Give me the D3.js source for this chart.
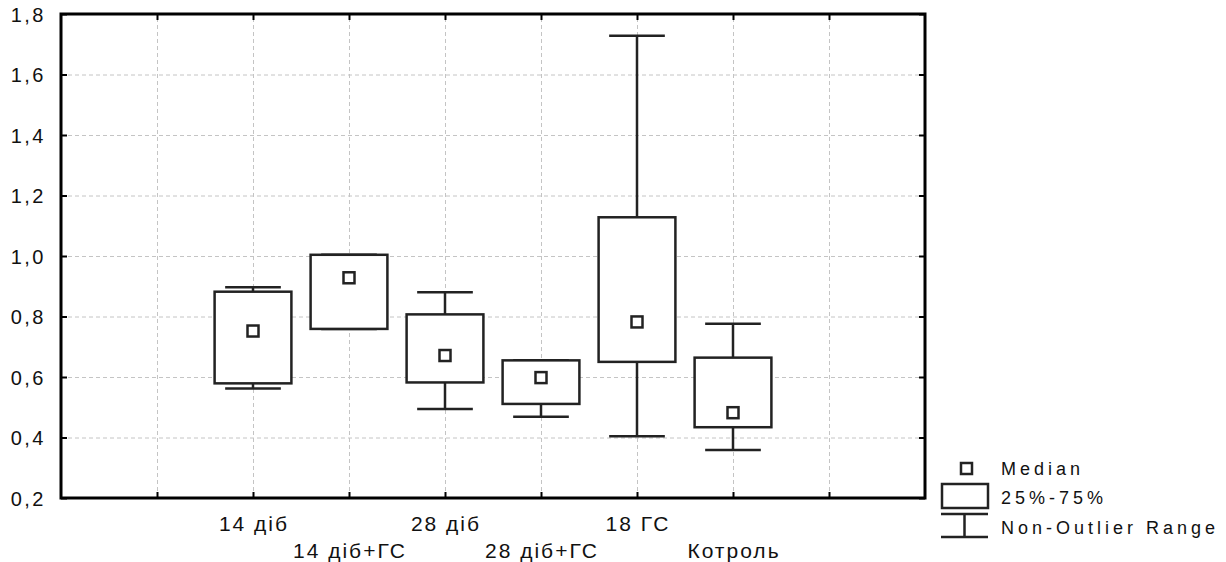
<!DOCTYPE html>
<html>
<head>
<meta charset="utf-8">
<style>
  * { margin:0; padding:0 }
  body { background:#fff; overflow:hidden; }
  text { font-family: "Liberation Sans", Arial, sans-serif; fill:#111; }
  .grid line { stroke:#c4c4c4; stroke-width:1; stroke-dasharray:4,3; }
  .grid path { display:none; }
</style>
<script src="https://cdn.jsdelivr.net/npm/d3@7"></script>
</head>
<body>
<script>
var categories = ["14 діб", "14 діб+ГС", "28 діб", "28 діб+ГС", "18 ГС", "Котроль"];
var positions  = [2, 3, 4, 5, 6, 7];
var whiskerLow = [0.562, 0.759, 0.494, 0.469, 0.404, 0.359];
var q1         = [0.579, 0.759, 0.582, 0.511, 0.650, 0.434];
var medians    = [0.752, 0.928, 0.671, 0.598, 0.782, 0.482];
var q3         = [0.882, 1.004, 0.807, 0.655, 1.128, 0.664];
var whiskerHigh= [0.897, 1.004, 0.880, 0.655, 1.728, 0.776];
var yTicks = [0.2, 0.4, 0.6, 0.8, 1.0, 1.2, 1.4, 1.6, 1.8];
var xGrid = [1, 2, 3, 4, 5, 6, 7, 8];
var legendLabels = ["Median", "25%-75%", "Non-Outlier Range"];

var width = 1226, height = 562;
var pLeft = 61, pRight = 925, pTop = 14, pBottom = 498;
var ink = "#222";

var svg = d3.select("body").append("svg")
    .attr("width", width)
    .attr("height", height);

var x = d3.scaleLinear().domain([0, 9]).range([pLeft, pRight]);
var y = d3.scaleLinear().domain([0.2, 1.8]).range([pBottom, pTop]);

// grid
svg.append("g").attr("class", "grid")
    .attr("transform", "translate(" + pLeft + ",0)")
    .call(d3.axisLeft(y).tickValues(yTicks.slice(1, -1)).tickSize(-(pRight - pLeft)).tickFormat(""));
svg.append("g").attr("class", "grid")
    .attr("transform", "translate(0," + pBottom + ")")
    .call(d3.axisBottom(x).tickValues(xGrid).tickSize(-(pBottom - pTop)).tickFormat(""));

// inside ticks on all sides
function ticks(g) {
  g.select(".domain").remove();
  g.selectAll(".tick line").attr("stroke", "#000").attr("stroke-width", 2);
}
var fmt = function(d) { return d.toFixed(1).replace(".", ","); };

var yl = svg.append("g").attr("transform", "translate(" + pLeft + ",0)")
    .call(d3.axisLeft(y).tickValues(yTicks).tickSize(-6).tickPadding(15).tickFormat(fmt));
yl.call(ticks);
yl.selectAll(".tick text")
    .attr("font-size", 20).attr("letter-spacing", "2.5px")
    .attr("dy", "0.37em").attr("fill", "#111")
    .style("font-family", "'Liberation Sans', Arial, sans-serif");

svg.append("g").attr("transform", "translate(" + pRight + ",0)")
    .call(d3.axisRight(y).tickValues(yTicks).tickSize(-6).tickFormat("")).call(ticks);
svg.append("g").attr("transform", "translate(0," + pBottom + ")")
    .call(d3.axisBottom(x).tickValues(xGrid).tickSize(-6).tickFormat("")).call(ticks);
svg.append("g").attr("transform", "translate(0," + pTop + ")")
    .call(d3.axisTop(x).tickValues(xGrid).tickSize(-6).tickFormat("")).call(ticks);

// frame
svg.append("rect")
    .attr("x", pLeft).attr("y", pTop)
    .attr("width", pRight - pLeft).attr("height", pBottom - pTop)
    .attr("fill", "none").attr("stroke", "#000").attr("stroke-width", 3);

// category labels, alternating rows
svg.append("g").selectAll("text")
    .data(categories)
    .join("text")
    .attr("x", function(d, i) { return x(positions[i]) + 1; })
    .attr("y", function(d, i) { return i % 2 ? 558 : 531; })
    .attr("text-anchor", "middle")
    .attr("font-size", 21)
    .attr("letter-spacing", "2px")
    .text(function(d) { return d; });

// boxes
var step = x(1) - x(0);
var boxW = step * 0.8, capW = step * 0.58, med = 11;
var idx = d3.range(categories.length);

var g = svg.append("g")
    .attr("stroke", ink).attr("stroke-width", 2.5).attr("fill", "none");

g.selectAll(".whisker").data(idx).join("line")
    .attr("x1", function(i) { return x(positions[i]); })
    .attr("x2", function(i) { return x(positions[i]); })
    .attr("y1", function(i) { return y(whiskerLow[i]); })
    .attr("y2", function(i) { return y(whiskerHigh[i]); });

g.selectAll(".capLow").data(idx).join("line")
    .attr("x1", function(i) { return x(positions[i]) - capW / 2; })
    .attr("x2", function(i) { return x(positions[i]) + capW / 2; })
    .attr("y1", function(i) { return y(whiskerLow[i]); })
    .attr("y2", function(i) { return y(whiskerLow[i]); });

g.selectAll(".capHigh").data(idx).join("line")
    .attr("x1", function(i) { return x(positions[i]) - capW / 2; })
    .attr("x2", function(i) { return x(positions[i]) + capW / 2; })
    .attr("y1", function(i) { return y(whiskerHigh[i]); })
    .attr("y2", function(i) { return y(whiskerHigh[i]); });

g.selectAll(".box").data(idx).join("rect")
    .attr("x", function(i) { return x(positions[i]) - boxW / 2; })
    .attr("y", function(i) { return y(q3[i]); })
    .attr("width", boxW)
    .attr("height", function(i) { return y(q1[i]) - y(q3[i]); })
    .attr("fill", "#fff");

g.selectAll(".median").data(idx).join("rect")
    .attr("x", function(i) { return x(positions[i]) - med / 2; })
    .attr("y", function(i) { return y(medians[i]) - med / 2; })
    .attr("width", med).attr("height", med)
    .attr("fill", "#fff");

// legend
var lg = svg.append("g").attr("stroke", ink).attr("stroke-width", 2.5).attr("fill", "none");
lg.append("rect").attr("x", 961).attr("y", 463).attr("width", 11).attr("height", 11).attr("fill", "#fff");
lg.append("rect").attr("x", 942).attr("y", 484).attr("width", 46).attr("height", 24);
lg.append("line").attr("x1", 941).attr("x2", 988).attr("y1", 514).attr("y2", 514);
lg.append("line").attr("x1", 941).attr("x2", 988).attr("y1", 537).attr("y2", 537);
lg.append("line").attr("x1", 964.5).attr("x2", 964.5).attr("y1", 514).attr("y2", 537);

svg.append("g").selectAll("text")
    .data(legendLabels)
    .join("text")
    .attr("x", 1001)
    .attr("y", function(d, i) { return 474.5 + i * 29.5; })
    .attr("font-size", 18)
    .attr("letter-spacing", "4px")
    .text(function(d) { return d; });
</script>
</body>
</html>
